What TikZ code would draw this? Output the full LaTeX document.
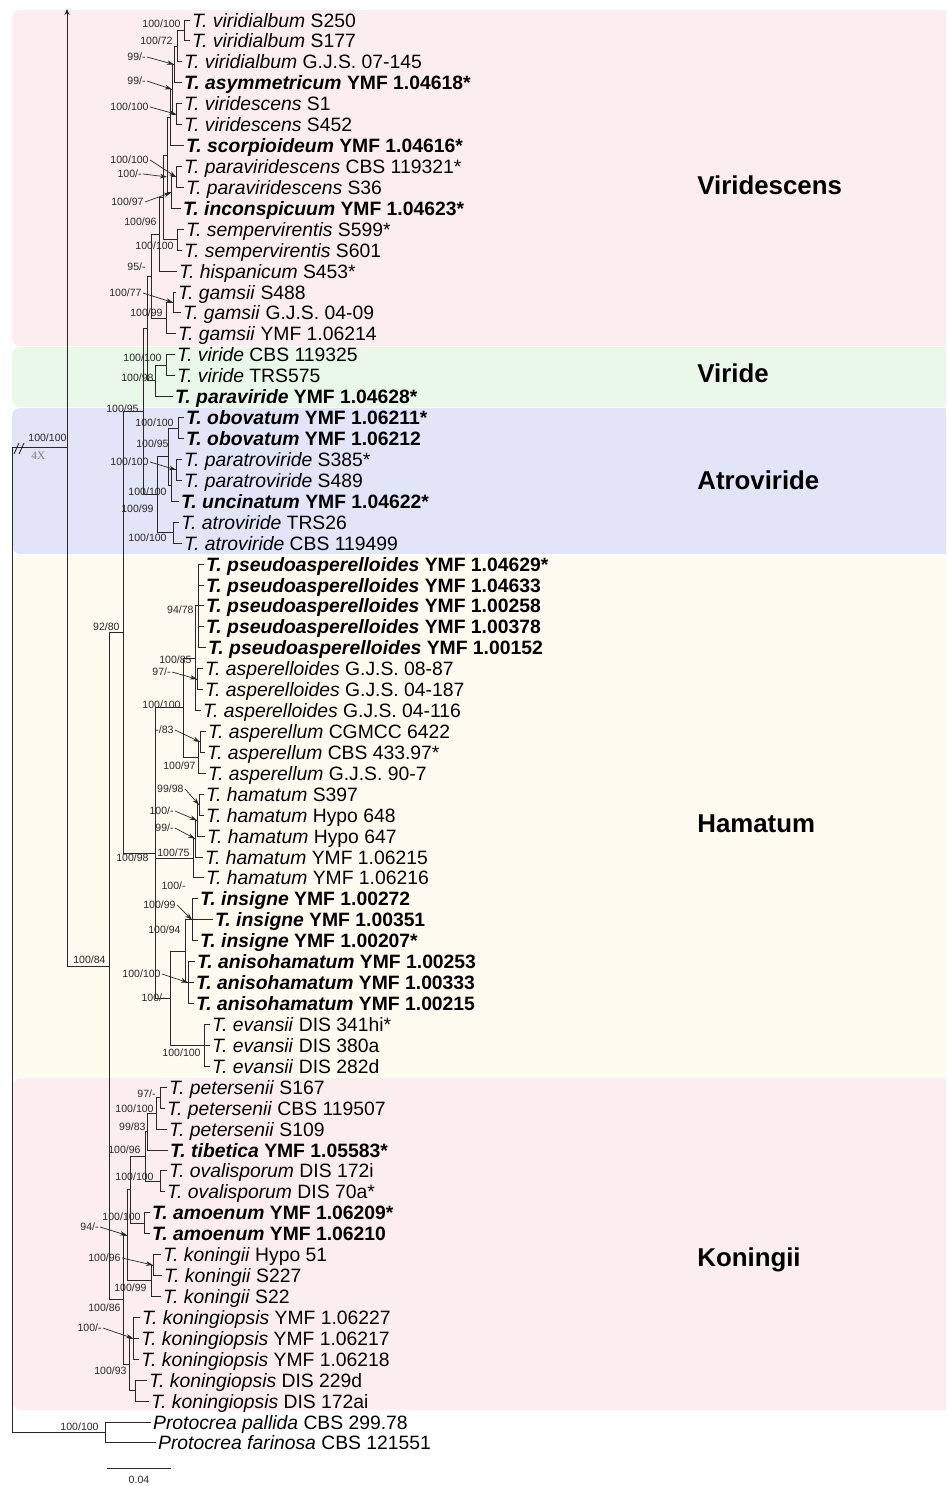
\documentclass[tikz,border=0pt]{standalone}
\usepackage{fontspec}
\setmainfont{Liberation Sans}
\newfontfamily\serifx{Liberation Serif}
\usetikzlibrary{arrows.meta}
\definecolor{bgpink}{RGB}{252,238,240}
\definecolor{bggreen}{RGB}{234,248,234}
\definecolor{bgblue}{RGB}{226,228,247}
\definecolor{bgcream}{RGB}{254,252,240}
\definecolor{treeline}{RGB}{40,40,40}
\tikzset{
  branch/.style={draw=treeline, line width=0.55pt},
  tip/.style={anchor=west, inner xsep=1pt, inner ysep=0pt, font=\fontsize{11}{13}\selectfont, text height=8pt, text depth=0pt},
  sup/.style={anchor=east, inner xsep=0.6pt, inner ysep=0pt, font=\fontsize{6}{7}\selectfont, text height=4.3pt, text depth=0pt, text=treeline},
  suparrow/.style={draw=treeline, line width=0.4pt, -{Stealth[length=4pt,width=2.6pt]}},
  cladelab/.style={anchor=west, inner sep=0pt, font=\fontsize{14.7}{17}\selectfont\bfseries, text height=10.5pt, text depth=0pt},
  bgbox/.style={rounded corners=0.16cm}
}
\newcommand\taxon[2]{\textit{T. #1} #2}
\newcommand\newtaxon[2]{\textbf{\textit{T. #1} #2}}

\begin{document}
\begin{tikzpicture}[x=0.02cm,y=-0.02cm]
\useasboundingbox (0,0) rectangle (946,1486);
\clip (0,0) rectangle (946,1486);

% clade backgrounds
\fill[bgpink, bgbox] (12,10) rectangle (960,346);
\fill[bggreen, bgbox] (12,347) rectangle (960,407);
\fill[bgblue, bgbox] (12,408) rectangle (960,554);
\fill[bgcream, bgbox] (12,555) rectangle (960,1077);
\fill[bgpink, bgbox] (12,1078) rectangle (960,1410);

\node[cladelab] (cViridescens) at (697,185) {Viridescens};
\node[cladelab] (cViride) at (697,373) {Viride};
\node[cladelab] (cAtroviride) at (697,480) {Atroviride};
\node[cladelab] (cHamatum) at (697,823) {Hamatum};
\node[cladelab] (cKoningii) at (697,1257) {Koningii};

% tree, y in rows
\def\rowh{0.4186}
\begin{scope}[y=-\rowh cm, yshift=0.0186cm]
\foreach \r/\x/\lab in {
  1/190/{\taxon{viridialbum}{S250}},
  2/190/{\taxon{viridialbum}{S177}},
  3/182/{\taxon{viridialbum}{G.J.S. 07-145}},
  4/182/{\newtaxon{asymmetricum}{YMF 1.04618*}},
  5/182/{\taxon{viridescens}{S1}},
  6/182/{\taxon{viridescens}{S452}},
  7/184/{\newtaxon{scorpioideum}{YMF 1.04616*}},
  8/182/{\taxon{paraviridescens}{CBS 119321*}},
  9/184/{\taxon{paraviridescens}{S36}},
  10/181/{\newtaxon{inconspicuum}{YMF 1.04623*}},
  11/184/{\taxon{sempervirentis}{S599*}},
  12/182/{\taxon{sempervirentis}{S601}},
  13/177/{\taxon{hispanicum}{S453*}},
  14/176/{\taxon{gamsii}{S488}},
  15/181/{\taxon{gamsii}{G.J.S. 04-09}},
  16/176/{\taxon{gamsii}{YMF 1.06214}},
  17/175/{\taxon{viride}{CBS 119325}},
  18/175/{\taxon{viride}{TRS575}},
  19/173/{\newtaxon{paraviride}{YMF 1.04628*}},
  20/184/{\newtaxon{obovatum}{YMF 1.06211*}},
  21/184/{\newtaxon{obovatum}{YMF 1.06212}},
  22/182/{\taxon{paratroviride}{S385*}},
  23/182/{\taxon{paratroviride}{S489}},
  24/179/{\newtaxon{uncinatum}{YMF 1.04622*}},
  25/179/{\taxon{atroviride}{TRS26}},
  26/182/{\taxon{atroviride}{CBS 119499}},
  27/204/{\newtaxon{pseudoasperelloides}{YMF 1.04629*}},
  28/204/{\newtaxon{pseudoasperelloides}{YMF 1.04633}},
  29/204/{\newtaxon{pseudoasperelloides}{YMF 1.00258}},
  30/204/{\newtaxon{pseudoasperelloides}{YMF 1.00378}},
  31/206/{\newtaxon{pseudoasperelloides}{YMF 1.00152}},
  32/203/{\taxon{asperelloides}{G.J.S. 08-87}},
  33/203/{\taxon{asperelloides}{G.J.S. 04-187}},
  34/201/{\taxon{asperelloides}{G.J.S. 04-116}},
  35/206/{\taxon{asperellum}{CGMCC 6422}},
  36/205/{\taxon{asperellum}{CBS 433.97*}},
  37/206/{\taxon{asperellum}{G.J.S. 90-7}},
  38/204/{\taxon{hamatum}{S397}},
  39/204/{\taxon{hamatum}{Hypo 648}},
  40/205/{\taxon{hamatum}{Hypo 647}},
  41/203/{\taxon{hamatum}{YMF 1.06215}},
  42/204/{\taxon{hamatum}{YMF 1.06216}},
  43/198/{\newtaxon{insigne}{YMF 1.00272}},
  44/213/{\newtaxon{insigne}{YMF 1.00351}},
  45/198/{\newtaxon{insigne}{YMF 1.00207*}},
  46/195/{\newtaxon{anisohamatum}{YMF 1.00253}},
  47/194/{\newtaxon{anisohamatum}{YMF 1.00333}},
  48/194/{\newtaxon{anisohamatum}{YMF 1.00215}},
  49/210/{\taxon{evansii}{DIS 341hi*}},
  50/210/{\taxon{evansii}{DIS 380a}},
  51/210/{\taxon{evansii}{DIS 282d}},
  52/167/{\taxon{petersenii}{S167}},
  53/165/{\taxon{petersenii}{CBS 119507}},
  54/167/{\taxon{petersenii}{S109}},
  55/168/{\newtaxon{tibetica}{YMF 1.05583*}},
  56/167/{\taxon{ovalisporum}{DIS 172i}},
  57/165/{\taxon{ovalisporum}{DIS 70a*}},
  58/150/{\newtaxon{amoenum}{YMF 1.06209*}},
  59/150/{\newtaxon{amoenum}{YMF 1.06210}},
  60/161/{\taxon{koningii}{Hypo 51}},
  61/162/{\taxon{koningii}{S227}},
  62/161/{\taxon{koningii}{S22}},
  63/140/{\taxon{koningiopsis}{YMF 1.06227}},
  64/139/{\taxon{koningiopsis}{YMF 1.06217}},
  65/139/{\taxon{koningiopsis}{YMF 1.06218}},
  66/147/{\taxon{koningiopsis}{DIS 229d}},
  67/149/{\taxon{koningiopsis}{DIS 172ai}},
  68/151/{\textit{Protocrea pallida} CBS 299.78},
  69/156/{\textit{Protocrea farinosa} CBS 121551}}{
  \coordinate (e\r) at (\x,\r);
  \node[tip] (l\r) at (e\r) {\lab};
}

% internal nodes: name/x/row
\foreach \n/\x/\r in {A/184/1.5, B/177/2.25, C/174/3.125, E/176/5.5, D/172/4.3125,
  F/170/5.65625, G/176/8.5, H/171/9.25, I/167/7.453, K/177/11.5, N/163/9.477,
  M/159/11.238, O/173/14.5, P/166/15.25, V/151/13.244, Q/166/17.5, R/155/18.25,
  VV/147/15.747, S/178/20.5, T/176/22.5, U/171/23.25, W/168/21.875, X/173/25.5,
  Y/157/23.6875, Z/143/19.717,
  AA/198/29, AB/197/32.5, AC/195/31.5, AF/200/35.5, AG/198/36.25, AD/183/33.875,
  BA/199/38.5, BB/197/39.25, BC/195/40.125, BD/193/41.0625, CA/192/44, DA/188/47,
  CB/185/45.5, DE/204/50, DB/170/47.75, AH/155/40.8125, 92/123/30.265,
  PA/160/52.5, PB/156/53.25, PC/147/54.125, OA/160/56.5, OB/145/55.3125,
  OC/144/58.5, OD/130/56.906, KA/153/60.5, KB/151/61.25, OE/127/59.078,
  KD/133/64, KF/135/66.5, KG/129/65.25, KC/123/62.164, 84/109/46.215,
  In/67/21.449, Top/67/0.474, OG/105/68.5, root/12/44.97}
  \coordinate (n\n) at (\x,\r);

\foreach \p/\c in {nA/e1, nA/e2, nB/nA, nB/e3, nC/nB, nC/e4, nE/e5, nE/e6,
  nD/nC, nD/nE, nF/nD, nF/e7, nG/e8, nG/e9, nH/nG, nH/e10, nI/nF, nI/nH,
  nK/e11, nK/e12, nN/nI, nN/nK, nM/nN, nM/e13, nO/e14, nO/e15, nP/nO, nP/e16,
  nV/nM, nV/nP, nQ/e17, nQ/e18, nR/nQ, nR/e19, nVV/nV, nVV/nR,
  nS/e20, nS/e21, nT/e22, nT/e23, nU/nT, nU/e24, nW/nS, nW/nU, nX/e25, nX/e26,
  nY/nW, nY/nX, nZ/nVV, nZ/nY,
  nAA/e27, nAA/e28, nAA/e29, nAA/e30, nAA/e31, nAB/e32, nAB/e33,
  nAC/nAA, nAC/nAB, nAC/e34, nAF/e35, nAF/e36, nAG/nAF, nAG/e37, nAD/nAC, nAD/nAG,
  nBA/e38, nBA/e39, nBB/nBA, nBB/e40, nBC/nBB, nBC/e41, nBD/nBC, nBD/e42,
  nCA/e43, nCA/e44, nCA/e45, nDA/e46, nDA/e47, nDA/e48, nCB/nCA, nCB/nDA,
  nDE/e49, nDE/e50, nDE/e51, nDB/nCB, nDB/nDE, nAH/nAD, nAH/nBD, nAH/nDB,
  n92/nZ, n92/nAH,
  nPA/e52, nPA/e53, nPB/nPA, nPB/e54, nPC/nPB, nPC/e55, nOA/e56, nOA/e57,
  nOB/nPC, nOB/nOA, nOC/e58, nOC/e59, nOD/nOB, nOD/nOC, nKA/e60, nKA/e61,
  nKB/nKA, nKB/e62, nOE/nOD, nOE/nKB, nKD/e63, nKD/e64, nKD/e65, nKF/e66, nKF/e67,
  nKG/nKD, nKG/nKF, nKC/nOE, nKC/nKG, n84/n92, n84/nKC, nIn/n84,
  nroot/nIn, nroot/nOG, nOG/e68, nOG/e69}
  \draw[branch] (\p) |- (\c);

\draw[branch, -{Stealth[length=3.5pt,width=3pt]}] (nIn) -- (nTop);
\end{scope}

% support values
\foreach \i/\x/\y/\t in {1/182/24/{100/100}, 2/174/41/{100/72}, 3/147/57/{99/-},
  4/147/81/{99/-}, 5/150/107/{100/100}, 6/150/160/{100/100}, 7/143/174/{100/-},
  8/145/202/{100/97}, 9/158/222/{100/96}, 10/175/246/{100/100}, 11/147/267/{95/-},
  12/143/293/{100/77}, 13/164/313/{100/99}, 14/163/358/{100/100}, 15/155/378/{100/98},
  16/140/409/{100/95}, 17/175/423/{100/100}, 18/170/444/{100/95}, 19/150/462/{100/100},
  20/168/492/{100/100}, 21/155/509/{100/99}, 22/168/538/{100/100}, 23/121/627/{92/80},
  24/195/610/{94/78}, 25/193/660/{100/85}, 26/172/672/{97/-}, 27/182/705/{100/100},
  28/175/730/{-/83}, 29/197/766/{100/97}, 30/185/789/{99/98}, 31/175/811/{100/-},
  32/175/828/{99/-}, 33/191/853/{100/75}, 34/150/858/{100/98}, 35/187/886/{100/-},
  36/177/905/{100/99}, 37/182/930/{100/94}, 38/107/960/{100/84}, 39/162/974/{100/100},
  40/167/998/{100/-}, 41/202/1053/{100/100}, 42/157/1094/{97/-}, 43/155/1109/{100/100},
  44/147/1127/{99/83}, 45/142/1150/{100/96}, 46/155/1177/{100/100}, 47/142/1217/{100/100},
  48/100/1227/{94/-}, 49/122/1258/{100/96}, 50/148/1288/{100/99}, 51/122/1308/{100/86},
  52/103/1328/{100/-}, 53/128/1371/{100/93}, 54/100/1427/{100/100}}
  \node[sup] (s\i) at (\x,\y) {\t};
\node[sup, anchor=west] (s55) at (27,438) {100/100};

\foreach \s/\n in {s3/nC, s4/nD, s5/nE, s6/nG, s8/nH, s12/nO, s19/nT, s26/nAB,
  s28/nAF, s30/nBA, s31/nBB, s32/nBC, s36/nCA, s39/nDA, s48/nOE, s49/nKA, s52/nKD}
  \draw[suparrow] (\s.east) -- (\n);
\draw[suparrow] (s7.east) -- (nI |- nG);

% broken branch
\draw[treeline, line width=0.5pt] (14,454) -- (19,443) (19,454) -- (24,443);
\node[anchor=west, inner sep=0pt, font=\serifx\fontsize{6.5}{7}\selectfont, text=gray] (fourx) at (31,456) {4X};

% scale bar
\coordinate (sbL) at (107,1468);
\coordinate (sbR) at (171,1468);
\draw[branch] (sbL) -- (sbR);
\node[sup, anchor=center] (sblab) at (139,1480) {0.04};
\end{tikzpicture}
\end{document}
